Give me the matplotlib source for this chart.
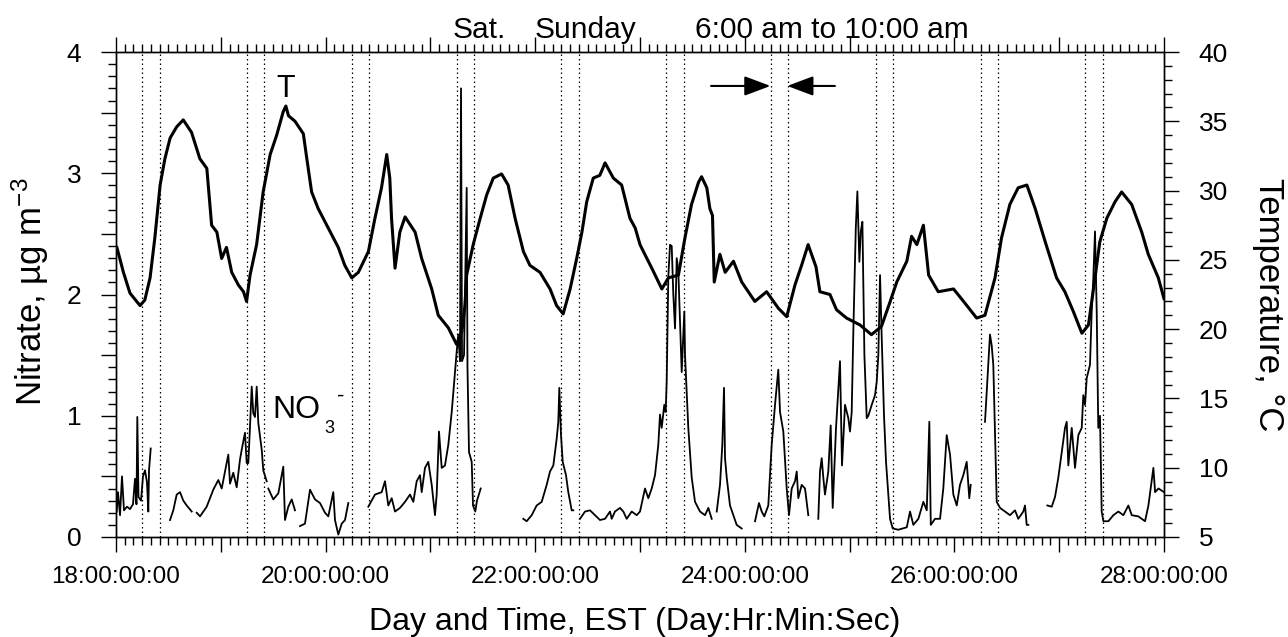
import numpy as np
import matplotlib
matplotlib.use("Agg")
import matplotlib.pyplot as plt
from matplotlib.ticker import FixedLocator, MultipleLocator, FuncFormatter

plt.rcParams['font.family'] = ['Liberation Sans', 'DejaVu Sans']
plt.rcParams['mathtext.fontset'] = 'custom'
plt.rcParams['mathtext.rm'] = 'Liberation Sans'
plt.rcParams['mathtext.it'] = 'Liberation Sans'

nan = np.nan

# hours after 18:00:00:00, temperature in deg C
temp_hours = [0.2, 1.7, 3.2, 5.5, 6.6, 7.8, 8.9, 10.1, 11.2, 12.4, 13.9, 15.4, 17.3, 19.2,
              20.8, 21.9, 23.1, 24.2, 25.3, 26.5, 28.0, 29.2, 29.9, 30.7, 32.2, 33.7, 35.3,
              36.8, 38.3, 38.9, 39.5, 41.0, 42.9, 43.7, 44.8, 46.3, 48.6, 50.9, 52.4, 54.0,
              55.5, 57.8, 59.3, 60.8, 62.0, 62.7, 63.1, 63.9, 65.0, 66.2, 68.5, 70.0, 72.3,
              73.8, 76.1, 78.0, 79.2, 79.9, 80.3, 81.8, 83.4, 84.9, 86.4, 88.3, 89.8, 91.4,
              93.3, 94.8, 97.1, 99.4, 100.9, 102.4, 104.0, 105.5, 106.7, 107.8, 109.3, 110.8,
              112.0, 113.9, 115.8, 117.7, 118.9, 120.0, 121.1, 122.7, 125.0, 126.5, 128.8,
              130.3, 131.8, 133.4, 134.1, 135.3, 136.0, 136.6, 137.0, 138.3, 139.5, 141.4,
              143.3, 146.3, 149.0, 151.7, 153.6, 155.5, 157.0, 158.5, 160.3, 161.2, 163.5,
              165.0, 167.3, 170.4, 173.0, 175.3, 177.3, 178.8, 181.1, 182.2, 183.4, 184.9,
              186.1, 188.3, 191.8, 194.1, 197.1, 199.0, 201.3, 202.8, 204.7, 206.6, 208.6,
              210.5, 212.8, 215.4, 217.3, 219.2, 221.2, 222.7, 224.2, 225.3, 226.9, 228.8,
              230.3, 232.6, 234.9, 236.4, 238.7, 240.0]
temp_c = [25.9, 24.1, 22.6, 21.7, 22.1, 23.7, 26.6, 30.4, 32.3, 33.8, 34.6, 35.1, 34.2, 32.3,
          31.6, 27.5, 27.0, 25.1, 25.9, 24.1, 23.2, 22.7, 22.0, 23.9, 26.1, 29.9, 32.6,
          34.0, 35.7, 36.1, 35.4, 35.0, 34.1, 32.3, 29.9, 28.7, 27.3, 25.9, 24.6, 23.7,
          24.1, 25.6, 28.0, 30.2, 32.6, 30.9, 28.0, 24.4, 27.0, 28.1, 27.0, 25.1, 22.9,
          21.0, 20.1, 18.9, 19.8, 21.7, 23.9, 26.1, 28.0, 29.7, 30.9, 31.2, 30.4, 28.0,
          25.6, 24.6, 24.1, 22.9, 21.7, 21.1, 22.9, 25.1, 27.0, 29.2, 30.9, 31.1,
          32.0, 30.9, 30.4, 28.0, 27.3, 26.1, 25.4, 24.4, 22.9, 23.7, 23.9,
          26.6, 29.0, 30.6, 31.0, 30.2, 28.7, 28.2, 23.4, 25.4, 24.1, 24.9,
          23.4, 22.0, 22.7, 21.5, 20.9, 23.2, 24.6, 26.1, 24.5, 22.7, 22.5,
          21.4, 20.8, 20.3, 19.6, 20.2, 22.0, 23.4, 24.9, 26.7, 26.1, 27.5,
          23.9, 22.7, 22.9, 22.0, 20.8, 21.0, 23.7, 26.6, 29.0, 30.2, 30.4,
          28.7, 26.3, 23.7, 22.7, 21.3, 19.7, 20.3, 23.7, 26.3, 28.0, 29.2,
          29.9, 29.0, 27.0, 25.4, 23.7, 22.2]

# hours after 18:00:00:00, nitrate in ug m-3 (nan = no data)
no3_hours = [0.16, 0.46, 0.92, 1.37, 1.83, 2.52, 3.21, 3.89, 4.35, 4.69, 4.88, 5.15, 5.73,
             6.18, 6.64, 7.10, 7.40, 7.56, 7.95, 8.5,
             12.37, 13.12, 13.90, 14.66, 15.41, 16.19, 17.34, 17.9,
             18.48, 19.24, 20.77, 22.28, 23.43, 24.21, 25.72, 26.11, 26.86, 27.64, 28.40,
             28.79, 29.54, 29.93, 30.30, 30.69, 31.08, 31.44, 31.83, 32.22, 32.59, 33.37,
             33.73, 34.51, 34.7,
             34.88, 36.02, 37.17, 38.31, 38.70, 39.46, 40.24, 40.99, 41.5,
             42.14, 43.28, 44.43, 45.57, 46.72, 47.86, 48.62, 49.76, 50.15, 50.91, 51.69,
             52.44, 53.20, 54.0,
             57.78, 59.31, 60.85, 61.60, 62.36, 63.14, 63.89, 65.04, 66.18, 67.33, 68.09,
             68.86, 69.62, 70.01, 70.76, 71.52, 72.30, 73.05, 73.44, 73.97, 74.59, 75.34,
             76.10, 76.88, 77.63, 78.02, 78.39, 78.78, 79.01, 79.24, 79.70, 80.31, 80.49,
             80.84, 81.46, 81.76, 82.28, 82.67, 83.52, 84.0,
             93.27, 94.05, 95.20, 96.34, 97.49, 98.63, 99.39, 100.15, 100.92, 101.29,
             101.52, 101.91, 102.30, 103.05, 103.58, 104.36, 104.73, 105.3,
             106.26, 107.41, 108.55, 109.70, 110.84, 111.99, 113.13, 113.52, 114.27, 115.42,
             116.18, 116.95, 118.10, 119.25, 120.00, 121.15, 121.90, 122.68, 123.44, 124.19,
             124.58, 124.97, 125.56, 125.88, 126.11, 126.48, 126.87, 127.26, 127.63, 128.02,
             128.41, 128.77, 129.55, 130.15, 130.31, 131.06, 131.84, 132.60, 133.74, 134.89,
             135.65, 136.42, 136.9,
             137.57, 138.32, 138.85, 139.24, 139.47, 139.86, 140.61, 141.37, 142.14, 143.29,
             144.0,
             146.34, 147.25, 147.87, 148.47, 149.38, 150.16, 150.92, 151.67, 152.07, 152.82,
             153.60, 154.12, 154.74, 155.50, 155.89, 156.25, 157.03, 157.79, 158.54, 159.5,
             160.83, 161.22, 161.61, 161.98, 162.36, 163.12, 163.67, 164.13, 164.89, 165.80,
             166.26, 166.95, 167.71, 168.09, 168.48, 168.87, 169.42, 169.78, 170.24, 170.56,
             170.93, 171.39, 171.92, 172.29, 173.07, 173.82, 174.21, 174.58, 174.97, 175.36,
             175.88, 176.34, 176.87, 177.26, 177.88, 179.16, 181.09, 181.84, 182.60, 183.75,
             184.89, 185.67, 186.26, 186.59, 187.56, 188.71, 189.46, 190.24, 191.00, 191.76,
             192.54, 193.28, 194.04, 194.82, 195.41, 195.73, 196.5,
             199.01, 199.76, 200.15, 200.54, 200.91, 201.30, 201.69, 202.45, 203.59, 204.73,
             205.88, 206.63, 207.78, 208.17, 208.56, 208.93, 209.5,
             213.28, 214.29, 215.04, 215.80, 216.58, 217.33, 217.72, 218.09, 218.87, 219.62,
             220.38, 221.16, 221.52, 221.91, 222.30, 223.05, 223.44, 223.81, 224.20, 224.59,
             224.95, 225.34, 225.73, 226.12, 227.26, 228.41, 229.55, 230.70, 231.84, 232.61,
             234.13, 235.66, 236.43, 237.57, 237.96, 238.73, 240.0]
no3_ugm3 = [0.21, 0.37, 0.18, 0.50, 0.22, 0.25, 0.23, 0.27, 0.48, 0.27, 0.99, 0.33, 0.30,
            0.50, 0.55, 0.45, 0.21, 0.55, 0.73, nan,
            0.14, 0.22, 0.35, 0.37, 0.30, 0.26, 0.21, nan,
            0.20, 0.17, 0.25, 0.39, 0.47, 0.40, 0.68, 0.44, 0.53, 0.41, 0.64,
            0.72, 0.86, 0.61, 0.61, 0.91, 1.24, 1.02, 0.99, 1.24, 0.94, 0.72,
            0.55, 0.46, nan,
            0.40, 0.31, 0.36, 0.58, 0.14, 0.25, 0.31, 0.22, nan,
            0.09, 0.11, 0.39, 0.31, 0.28, 0.20, 0.17, 0.37, 0.14, 0.02, 0.11,
            0.14, 0.28, nan,
            0.25, 0.35, 0.37, 0.46, 0.26, 0.32, 0.21, 0.24, 0.29, 0.35, 0.29,
            0.46, 0.51, 0.37, 0.57, 0.62, 0.43, 0.18, 0.35, 0.87, 0.57, 0.59,
            0.76, 1.03, 1.36, 1.53, 1.67, 1.45, 3.70, 1.45, 1.50, 2.88, 1.40,
            0.70, 0.62, 0.26, 0.21, 0.30, 0.40, nan,
            0.15, 0.13, 0.18, 0.26, 0.29, 0.43, 0.54, 0.59, 0.81, 0.95,
            1.23, 0.84, 0.62, 0.51, 0.37, 0.22, 0.22, nan,
            0.15, 0.21, 0.22, 0.18, 0.14, 0.15, 0.21, 0.15, 0.21, 0.24,
            0.21, 0.15, 0.21, 0.18, 0.21, 0.40, 0.32, 0.40, 0.51, 0.76,
            1.01, 0.90, 1.09, 1.03, 1.28, 2.14, 2.41, 2.40, 2.00, 1.72,
            2.30, 2.20, 1.36, 1.86, 1.50, 0.90, 0.49, 0.29, 0.21, 0.18,
            0.24, 0.15, nan,
            0.21, 0.43, 0.76, 1.23, 0.65, 0.49, 0.26, 0.18, 0.10, 0.07,
            nan,
            0.13, 0.28, 0.21, 0.17, 0.26, 0.76, 1.09, 1.38, 1.03, 0.87,
            0.40, 0.18, 0.40, 0.46, 0.54, 0.32, 0.43, 0.40, 0.18, nan,
            0.15, 0.54, 0.65, 0.49, 0.35, 0.54, 0.92, 0.24, 0.90, 1.45,
            0.59, 1.09, 0.98, 0.87, 1.03, 1.72, 2.55, 2.85, 2.27, 2.52,
            2.60, 1.50, 0.98, 1.00, 1.09, 1.17, 1.28, 1.50, 2.16, 1.64,
            1.00, 0.62, 0.35, 0.15, 0.07, 0.06, 0.08, 0.21, 0.10, 0.15,
            0.29, 0.22, 0.95, 0.10, 0.15, 0.15, 0.40, 0.84, 0.68, 0.35,
            0.26, 0.43, 0.51, 0.62, 0.32, 0.43, nan,
            0.95, 1.42, 1.67, 1.58, 1.42, 0.84, 0.29, 0.24, 0.21, 0.18,
            0.22, 0.15, 0.21, 0.26, 0.10, 0.10, nan,
            0.26, 0.25, 0.33, 0.49, 0.70, 0.90, 0.95, 0.59, 0.90, 0.57,
            0.84, 0.90, 1.17, 1.09, 1.31, 1.42, 1.86, 2.13, 2.52, 1.86,
            0.90, 1.00, 0.21, 0.13, 0.13, 0.18, 0.21, 0.18, 0.26, 0.18,
            0.17, 0.13, 0.26, 0.57, 0.37, 0.40, 0.37]

days = list(range(18, 28))
start_hour = 6.0   # 6:00 am
end_hour = 10.0    # 10:00 am

temp_day = 18 + np.array(temp_hours) / 24.0
no3_day = 18 + np.array(no3_hours) / 24.0

fig = plt.figure(figsize=(12.88, 6.37), dpi=100)
ax = fig.add_axes([116 / 1288, 1 - 537 / 637, 1048 / 1288, 485 / 637])
ax2 = ax.twinx()

# morning window markers
for d in days:
    for hr in (start_hour, end_hour):
        ax.axvline(d + hr / 24.0, color='black', lw=0.9, ls=(0, (1.2, 2.4)), zorder=1)

ax.plot(no3_day, no3_ugm3, color='black', lw=1.3, zorder=3)
ax2.plot(temp_day, temp_c, color='black', lw=2.2, zorder=3)

ax.set_xlim(18, 28)
ax.set_ylim(0, 4)
ax2.set_ylim(5, 40)

ax.xaxis.set_major_locator(FixedLocator(list(range(18, 29))))
ax.xaxis.set_minor_locator(MultipleLocator(1 / 12))
ax.xaxis.set_major_formatter(FuncFormatter(
    lambda v, p: "%02d:00:00:00" % round(v) if round(v) % 2 == 0 else ""))
ax.yaxis.set_major_locator(MultipleLocator(0.5))
ax.yaxis.set_minor_locator(MultipleLocator(0.1))
ax.yaxis.set_major_formatter(FuncFormatter(
    lambda v, p: "%d" % round(v) if abs(v - round(v)) < 1e-6 else ""))
ax2.yaxis.set_major_locator(MultipleLocator(5))
ax2.yaxis.set_minor_locator(MultipleLocator(1))

ax.tick_params(axis='x', which='both', direction='out', top=True, bottom=True,
               labelsize=17.5, pad=10, width=1)
ax.tick_params(axis='x', which='major', length=11)
ax.tick_params(axis='x', which='minor', length=6)
ax.tick_params(axis='y', which='both', direction='out', left=True, right=False,
               labelsize=19, pad=14, width=1)
ax.tick_params(axis='y', which='major', length=11)
ax.tick_params(axis='y', which='minor', length=6)
ax2.tick_params(axis='y', which='both', direction='out', right=True, labelsize=19,
                pad=14, width=1)
ax2.tick_params(axis='y', which='major', length=11)
ax2.tick_params(axis='y', which='minor', length=6)
for a in (ax, ax2):
    for s in a.spines.values():
        s.set_linewidth(1.0)

ax.set_xlabel("Day and Time, EST (Day:Hr:Min:Sec)", fontsize=23)
ax.xaxis.set_label_coords(0.495, -0.175)
ax.xaxis.label.set(va='center', ha='center')
ax.set_ylabel("Nitrate, \u00b5g m$^{-3}$", fontsize=25)
ax.yaxis.set_label_coords(-0.082, 0.505)
ax.yaxis.label.set(va='center', ha='center', rotation_mode='default')
ax2.set_ylabel("Temperature, \u00b0C", fontsize=25, rotation=270)
ax2.yaxis.set_label_coords(1.100, 0.478)
ax2.yaxis.label.set(va='center', ha='center', rotation_mode='default')

# annotations
ax.text(0.3216, 1.029, "Sat.", transform=ax.transAxes, fontsize=21.5, va='baseline')
ax.text(0.3998, 1.029, "Sunday", transform=ax.transAxes, fontsize=21.5, va='baseline')
ax.text(0.5525, 1.029, "6:00 am to 10:00 am", transform=ax.transAxes, fontsize=21.5,
        va='baseline')
ax.text(19.622, 3.63, "T", fontsize=22, ha='center', va='baseline')
ax.text(19.489, 0.98, "NO", fontsize=23, ha='left', va='baseline')
ax.text(19.99, 0.858, "3", fontsize=13, ha='left', va='baseline')
ax.text(20.11, 1.12, "-", fontsize=16, ha='left', va='baseline')

arrow_kw = dict(arrowstyle='-|>,head_length=16,head_width=6', color='black', lw=1.5,
                shrinkA=0, shrinkB=0, mutation_scale=1)
ax.annotate("", xy=(24.245, 3.72), xytext=(23.678, 3.72), arrowprops=arrow_kw)
ax.annotate("", xy=(24.405, 3.72), xytext=(24.86, 3.72), arrowprops=arrow_kw)

fig.savefig("out.png", dpi=100, facecolor='white')
